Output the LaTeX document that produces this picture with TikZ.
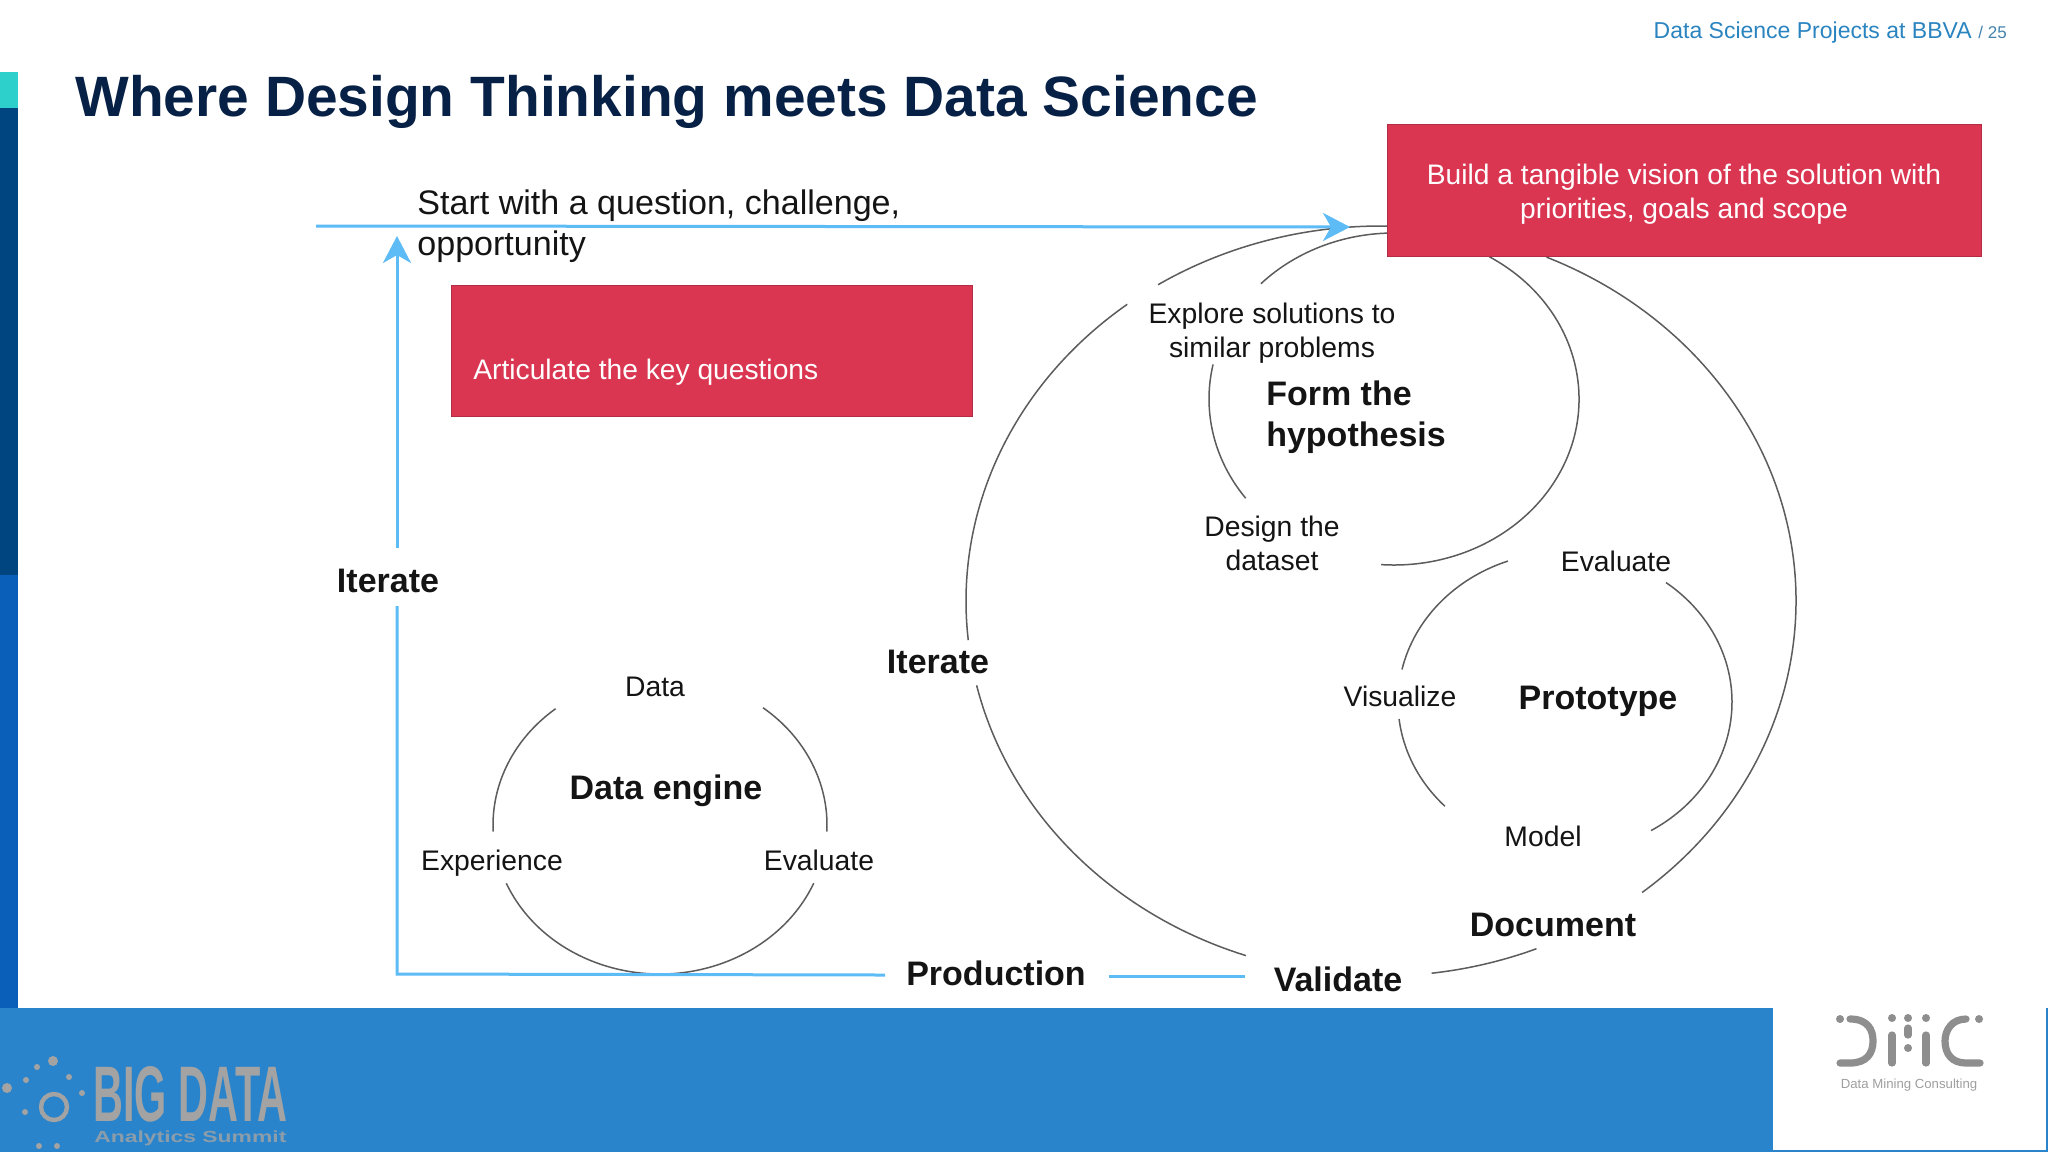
\documentclass[tikz,border=0pt]{standalone}
\usepackage{fontspec}
\usepackage{graphicx}
\setmainfont{Liberation Sans}
\usetikzlibrary{arrows.meta}
\definecolor{navy}{HTML}{072146}
\definecolor{ink}{HTML}{141414}
\definecolor{ringgrey}{HTML}{5C5C5C}
\definecolor{flow}{HTML}{5DBBF6}
\definecolor{crimson}{HTML}{DA3651}
\definecolor{crimsonedge}{HTML}{B32C44}
\definecolor{band}{HTML}{2A84CB}
\definecolor{barteal}{HTML}{2ED0CB}
\definecolor{bardark}{HTML}{004480}
\definecolor{barblue}{HTML}{0A60B8}
\definecolor{headblue}{HTML}{2A84C0}
\definecolor{logogrey}{HTML}{A3A3A3}
\definecolor{dmcgrey}{HTML}{8E8E8E}
\tikzset{
  x=0.5pt,y=0.5pt,
  label/.style={font=\fontsize{14.15}{17}\selectfont,text=ink,inner sep=0pt,align=center},
  strong/.style={font=\fontsize{17}{20.5}\bfseries\selectfont,text=ink,inner sep=0pt,align=left},
  whitetext/.style={font=\fontsize{14.1}{17.3}\selectfont,text=white,inner sep=0pt,align=center},
  redbox/.style={draw=crimsonedge,fill=crimson,line width=0.6pt,inner sep=0pt,anchor=north west},
  ring/.style={draw=ringgrey,line width=0.75pt},
  flowline/.style={draw=flow,line width=1.5pt},
  flowarrow/.style={flowline,-{Stealth[length=13.5pt,width=14pt,inset=4pt]}},
  dmc/.style={draw=dmcgrey,line width=3.6pt,line cap=round},
  logodot/.style={fill=logogrey,draw=none}
}
\newcommand{\ringseg}[6]{%
  \path (#1) ++(#4:#2 and #3) coordinate (#6);
  \draw[ring] (#6) arc[start angle=#4,end angle=#5,x radius=#2,y radius=#3];}
\begin{document}
\begin{tikzpicture}
\useasboundingbox (0,0) rectangle (2048,-1152);
\fill[white] (0,0) rectangle (2048,-1152);
% side bars
\fill[barteal] (0,-72) rectangle (18,-108);
\fill[bardark] (0,-108) rectangle (18,-575);
\fill[barblue] (0,-575) rectangle (18,-1008);
% footer
\fill[band] (0,-1008) rectangle (2048,-1152);
\fill[white] (1773,-1008) rectangle (2046,-1150);
% header
\node[anchor=base east,font=\fontsize{11.5}{14}\selectfont,text=headblue,inner sep=0pt] (hdr) at (1972,-38) {Data Science Projects at BBVA};
\node[anchor=base west,font=\fontsize{8.5}{10}\selectfont,text=headblue!70!gray,inner sep=0pt] (pg) at (1978,-38) {/ 25};
\node[anchor=base west,font=\fontsize{28.45}{34}\bfseries\selectfont,text=navy,inner sep=0pt] (title) at (75,-116) {Where Design Thinking meets Data Science};
% ring centres
\coordinate (outer) at (1381,-601);
\coordinate (hyp) at (1394,-399);
\coordinate (proto) at (1565,-702);
\coordinate (engine) at (660,-825);
% outer ring
\ringseg{outer}{415}{375}{122.5}{88}{oa}
\ringseg{outer}{415}{375}{127.7}{186}{ob}
\ringseg{outer}{415}{375}{193}{251}{oc}
\ringseg{outer}{415}{375}{277}{292}{od}
\ringseg{outer}{415}{375}{309}{426.5}{oe}
% hypothesis ring
\ringseg{hyp}{185}{166}{136}{88}{ha}
\ringseg{hyp}{185}{166}{59}{-94}{hb}
\ringseg{hyp}{185}{166}{168}{216.7}{hc}
% prototype ring
\ringseg{proto}{167}{150}{52.8}{-59}{pa}
\ringseg{proto}{167}{150}{110}{167.5}{pb}
\ringseg{proto}{167}{150}{186.5}{224}{pc}
% data engine ring
\ringseg{engine}{167}{149}{128.7}{182.5}{ea}
\ringseg{engine}{167}{149}{51.9}{-2.5}{eb}
\ringseg{engine}{167}{149}{203}{337}{ec}
% red boxes
\node[redbox,minimum width=297pt,minimum height=66pt] (vision) at (1387,-124) {};
\node[redbox,minimum width=260.5pt,minimum height=65.5pt] (questions) at (451,-285) {};
\node[whitetext] (visiontext) at (1684,-194) {Build a tangible vision of the solution with\\priorities, goals and scope};
\node[whitetext,anchor=base west] (questionstext) at (473,-379) {Articulate the key questions};
% labels
\node[anchor=base west,font=\fontsize{17.03}{20.5}\selectfont,text=ink,inner sep=0pt,align=left] (start) at (417,-214) {Start with a question, challenge,};
\node[anchor=base west,font=\fontsize{17.03}{20.5}\selectfont,text=ink,inner sep=0pt] (opp) at (417,-255) {opportunity};
\node[label] (explore) at (1272,-333) {Explore solutions to\\similar problems};
\node[strong] (form) at (1356,-417) {Form the\\hypothesis};
\node[label] (design) at (1272,-543) {Design the\\dataset};
\node[label,anchor=base] (evalp) at (1616,-571) {Evaluate};
\node[label,anchor=base] (visual) at (1400,-706) {Visualize};
\node[strong,anchor=base] (prototype) at (1598,-709) {Prototype};
\node[label,anchor=base] (model) at (1543,-846) {Model};
\node[strong,anchor=base] (document) at (1553,-936) {Document};
\node[strong,anchor=base] (validate) at (1338,-991) {Validate};
\node[strong,anchor=base] (production) at (996,-985) {Production};
\node[strong,anchor=base] (itermid) at (938,-673) {Iterate};
\node[strong,anchor=base] (iterleft) at (388,-592) {Iterate};
\node[label,anchor=base] (data) at (655,-696) {Data};
\node[strong,anchor=base] (engname) at (666,-799) {Data engine};
\node[label,anchor=base] (experience) at (492,-870) {Experience};
\node[label,anchor=base] (evale) at (819,-870) {Evaluate};
% blue flow
\coordinate (flowstart) at (316,-226);
\coordinate (flowtip) at (1350,-227);
\coordinate (corner) at (397,-974);
\coordinate (iterbelow) at (397,-606);
\coordinate (iterabove) at (397,-548);
\coordinate (uptip) at (397,-236);
\coordinate (prodleft) at (885,-975);
\coordinate (prodright) at (1109,-976);
\coordinate (validleft) at (1245,-976);
\draw[flowarrow] (flowstart) -- (flowtip);
\draw[flowline] (prodleft) -- (corner) -- (iterbelow);
\draw[flowarrow] (iterabove) -- (uptip);
\draw[flowline] (prodright) -- (validleft);
% Big Data logo
\draw[logogrey,line width=2.2pt] (54,-1107) circle (13);
\foreach \px/\py/\pr in {53/1061/5,7/1088/5,37/1067/3,26/1080/3,69/1077/3,82/1093/3,25/1112/3,39/1146/3,57/1146/3}
  \fill[logodot] (\px,-\py) circle (\pr);
\node[anchor=south west,inner sep=0pt,text=logogrey,font=\bfseries] (bigdata) at (93,-1123) {\resizebox{97pt}{27.5pt}{BIG DATA}};
\node[anchor=west,inner sep=0pt,text=logogrey!80!band,font=\bfseries] (summit) at (94,-1138) {\resizebox*{96pt}{7.5pt}{Analytics Summit}};
% DMC logo
\draw[dmc] (1850,-1019) .. controls (1868,-1019) and (1873,-1030) .. (1873,-1041) .. controls (1873,-1054) and (1866,-1063) .. (1850,-1063) -- (1840,-1063);
\draw[dmc] (1892,-1035) -- (1892,-1063);
\draw[dmc] (1926,-1035) -- (1926,-1063);
\draw[dmc] (1908,-1028) -- (1908,-1035);
\draw[dmc] (1966,-1019) .. controls (1952,-1019) and (1945,-1030) .. (1945,-1041) .. controls (1945,-1054) and (1952,-1063) .. (1966,-1063) -- (1980,-1063);
\foreach \px/\py in {1840/1019,1892/1018,1908/1018,1926/1018,1979/1019,1908/1048}
  \fill[dmcgrey] (\px,-\py) circle (4);
\node[inner sep=0pt,text=dmcgrey!85,font=\fontsize{6.6}{8}\selectfont] (dmctext) at (1909,-1085) {Data Mining Consulting};
\end{tikzpicture}
\end{document}
